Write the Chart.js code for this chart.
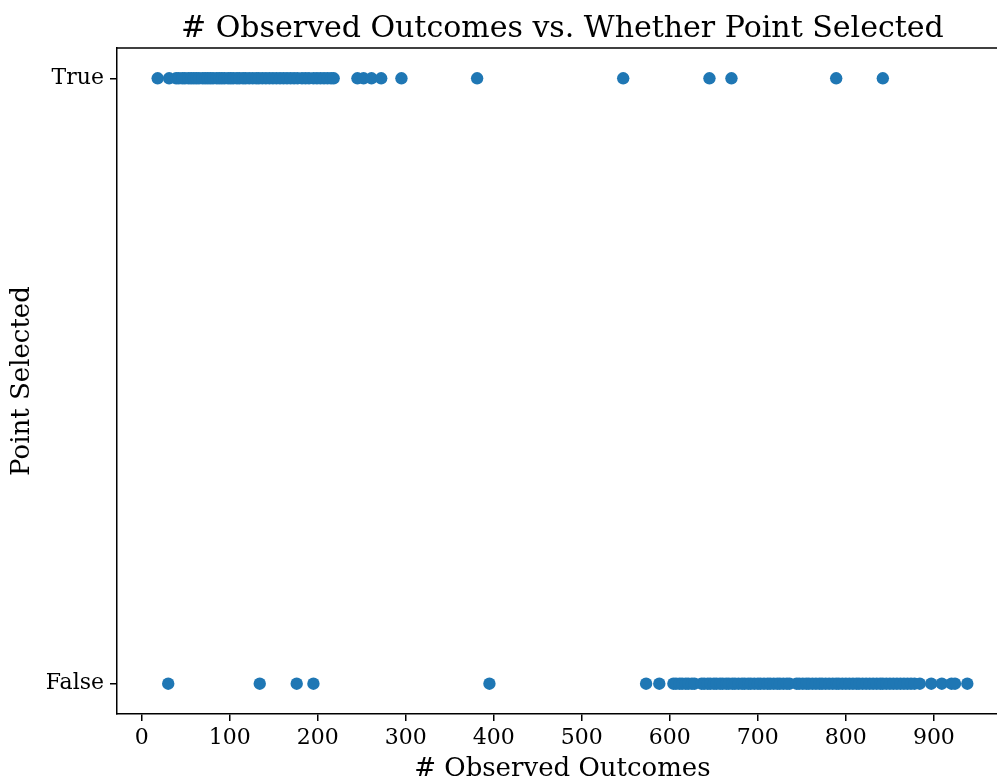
<!DOCTYPE html>
<html>
<head>
<meta charset="utf-8">
<script src="https://cdn.jsdelivr.net/npm/chart.js@4.4.1/dist/chart.umd.min.js"></script>
<style>
  html, body { margin: 0; padding: 0; background: #fff; overflow: hidden; }
  #wrap { width: 1014px; height: 783px; }
  #c { width: 1014px; height: 783px; display: block; }
</style>
</head>
<body>
<div id="wrap"><canvas id="c" width="1014" height="783"></canvas></div>
<script>
const chartTitle = '# Observed Outcomes vs. Whether Point Selected';
const xAxisTitle = '# Observed Outcomes';
const yAxisTitle = 'Point Selected';
const xTickValues = [0, 100, 200, 300, 400, 500, 600, 700, 800, 900];
const yTickValues = [0, 1];
const yTickLabels = ['False', 'True'];

// observed outcomes for points that were selected (True)
const selectedX = [18, 31, 39, 42, 46, 49, 53, 56, 59, 62, 65, 69, 72, 75, 78, 81, 85, 88, 91, 94, 98,
  101, 104, 108, 111, 115, 118, 122, 126, 130, 133, 137, 141, 145, 149, 153, 157, 161, 165, 169, 173,
  177, 182, 186, 190, 195, 199, 203, 207, 211, 215, 218, 245, 252, 261, 272, 295, 381, 547, 645, 670,
  789, 842];
// observed outcomes for points that were not selected (False)
const unselectedX = [30, 134, 176, 195, 395, 573, 588, 604, 607, 611, 614, 618, 621, 625, 628, 636, 639,
  643, 646, 650, 653, 657, 660, 664, 667, 671, 674, 678, 682, 685, 689, 692, 696, 700, 703, 707, 711,
  714, 718, 722, 725, 729, 733, 736, 744, 747, 751, 755, 758, 762, 766, 770, 773, 777, 781, 785, 789,
  792, 796, 800, 804, 808, 812, 815, 819, 823, 827, 831, 835, 839, 842, 846, 850, 854, 858, 862, 866,
  870, 874, 878, 884, 897, 909, 920, 924, 938];
const selectedY = 1;
const unselectedY = 0;

const pts = [];
selectedX.forEach(x => pts.push({x: x, y: selectedY}));
unselectedX.forEach(x => pts.push({x: x, y: unselectedY}));

const SERIF = '"DejaVu Serif", "Liberation Serif", serif';

const framePlugin = {
  id: 'frame',
  afterDraw(chart) {
    const {ctx, chartArea} = chart;
    ctx.save();
    ctx.strokeStyle = '#000';
    ctx.lineWidth = 1.5;
    ctx.beginPath();
    ctx.moveTo(chartArea.left - 0.75, chartArea.top);
    ctx.lineTo(chartArea.right + 2, chartArea.top);
    ctx.stroke();
    ctx.fillStyle = '#000';
    ctx.font = '30px ' + SERIF;
    ctx.textAlign = 'center';
    ctx.textBaseline = 'alphabetic';
    ctx.fillText(chartTitle, (chartArea.left + chartArea.right) / 2, 37);
    ctx.restore();
  }
};

new Chart(document.getElementById('c'), {
  type: 'scatter',
  data: {
    datasets: [{
      data: pts,
      backgroundColor: '#1f77b4',
      borderColor: '#1f77b4',
      borderWidth: 0,
      pointRadius: 6.2,
      pointHoverRadius: 6.2
    }]
  },
  options: {
    responsive: false,
    animation: false,
    events: [],
    layout: { padding: { top: 48, left: 0, right: 1, bottom: 0 } },
    plugins: { legend: { display: false }, tooltip: { enabled: false }, title: { display: false } },
    scales: {
      x: {
        type: 'linear',
        min: -28.2,
        max: 984,
        afterFit(s) { s.height = 69; },
        afterBuildTicks(s) { s.ticks = xTickValues.map(v => ({value: v})); },
        ticks: { color: '#000', font: { family: SERIF, size: 22 }, padding: 4, maxRotation: 0, autoSkip: false },
        grid: { display: true, drawOnChartArea: false, drawTicks: true, tickLength: 7, color: '#000', lineWidth: 1.5 },
        border: { display: true, color: '#000', width: 1.5 },
        title: { display: true, text: xAxisTitle, color: '#000', font: { family: SERIF, size: 26, lineHeight: 1 }, padding: { top: 0, bottom: 1 } }
      },
      y: {
        type: 'linear',
        min: -0.05,
        max: 1.05,
        afterFit(s) { s.width = 117; },
        afterBuildTicks(s) { s.ticks = yTickValues.map(v => ({value: v})); },
        ticks: {
          color: '#000', font: { family: SERIF, size: 22 }, padding: 6, autoSkip: false,
          callback: (v) => yTickLabels[yTickValues.indexOf(v)]
        },
        grid: { display: true, drawOnChartArea: false, drawTicks: true, tickLength: 7, color: '#000', lineWidth: 1.5 },
        border: { display: true, color: '#000', width: 1.5 },
        title: { display: true, text: yAxisTitle, color: '#000', font: { family: SERIF, size: 26, lineHeight: 1 }, padding: { top: 9, bottom: 0 } }
      }
    }
  },
  plugins: [framePlugin]
});
</script>
</body>
</html>
